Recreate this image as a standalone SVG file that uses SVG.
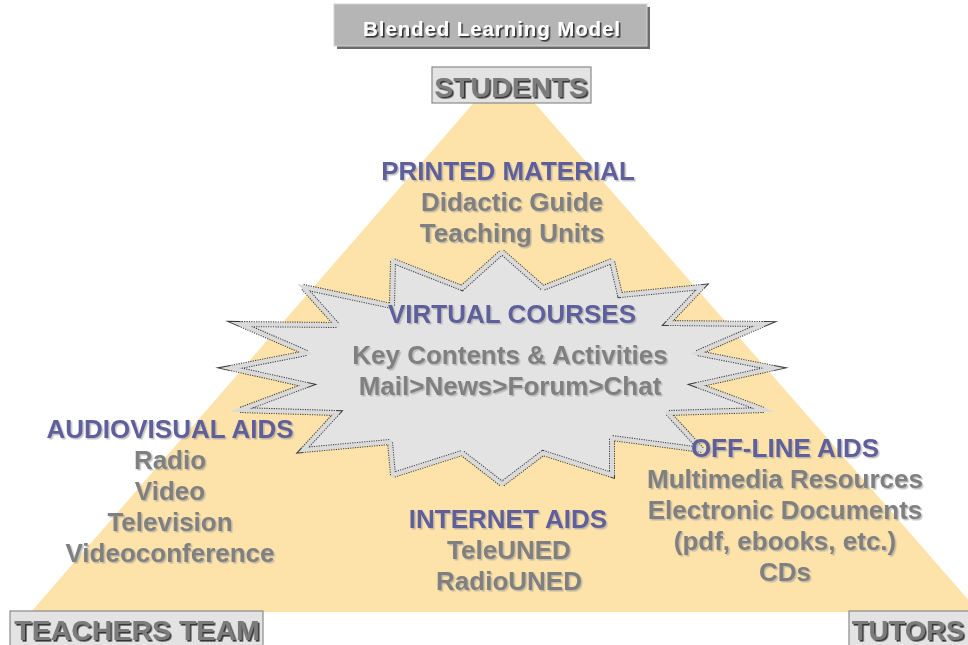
<svg xmlns="http://www.w3.org/2000/svg" width="968" height="645" viewBox="0 0 968 645">
<defs>
<filter id="sh" x="-5%" y="-20%" width="110%" height="150%"><feDropShadow dx="1.5" dy="1.5" stdDeviation="0.6" flood-color="#9a9a9a" flood-opacity="0.6"/></filter>
<filter id="shd" x="-5%" y="-20%" width="110%" height="150%"><feDropShadow dx="1.6" dy="1.6" stdDeviation="0.4" flood-color="#222" flood-opacity="0.9"/></filter>
<polygon id="star" points="502,252 543,288 612,261 620,295 702,287 668,323 764,324 697,353 774,368 697,385 764,410 668,413 702,450 612,438 612,475 543,453 502,484 462,453 393,475 390,442 303,450 337,413 240,410 307,385 230,368 307,353 240,324 337,325 303,287 392,306 393,261 462,288"/>
<style>
text{font-family:"Liberation Sans",Arial,sans-serif;font-weight:bold;text-anchor:middle}
.h{fill:#5e5e9c;font-size:26px}
.b{fill:#808080;font-size:26px}
.lbl{fill:#7c7c7c;font-size:28.5px}
.box{fill:#e3e3e3;stroke:#8a8a8a;stroke-width:1.2}
.title{fill:#ffffff;font-size:20.5px;letter-spacing:0.9px}
</style>
</defs>
<rect width="968" height="645" fill="#ffffff"/>
<g id="pyramid">
<polygon points="504,68 31,612 979,612" fill="#fde2a9"/>
</g>
<g id="title">
<rect x="337" y="7" width="313" height="42" fill="#6a6a6a"/>
<rect x="334" y="4" width="313" height="42" fill="#b5b5b5" stroke="#d4d4d4" stroke-width="1"/>
<text class="title" x="492" y="36" filter="url(#shd)">Blended Learning Model</text>
</g>
<g id="students">
<rect class="box" x="432" y="67" width="159" height="36"/>
<text class="lbl" x="511" y="97" filter="url(#shd)">STUDENTS</text>
</g>
<g id="teachers">
<rect class="box" x="10" y="611" width="253" height="40"/>
<text class="lbl" x="137" y="640" filter="url(#shd)">TEACHERS TEAM</text>
</g>
<g id="tutors">
<rect class="box" x="849" y="611" width="130" height="40"/>
<text class="lbl" x="908" y="640" style="font-size:27.5px" filter="url(#shd)">TUTORS</text>
</g>
<g id="virtual-courses">
<use href="#star" fill="#e3e3e3" stroke="none"/>
<use href="#star" fill="none" stroke="#3a3a3a" stroke-width="6" stroke-dasharray="1.2 1.2" stroke-miterlimit="12"/>
<use href="#star" fill="none" stroke="#dadada" stroke-width="4" stroke-miterlimit="12"/>
<g filter="url(#sh)">
<text class="h" x="512" y="323">VIRTUAL COURSES</text>
<text class="b" x="510" y="364">Key Contents &amp; Activities</text>
<text class="b" x="510" y="395">Mail&gt;News&gt;Forum&gt;Chat</text>
</g>
</g>
<g id="printed-material" filter="url(#sh)">
<text class="h" x="508" y="180">PRINTED MATERIAL</text>
<text class="b" x="512" y="211">Didactic Guide</text>
<text class="b" x="512" y="242">Teaching Units</text>
</g>
<g id="audiovisual-aids" filter="url(#sh)">
<text class="h" x="170" y="438">AUDIOVISUAL AIDS</text>
<text class="b" x="170" y="469">Radio</text>
<text class="b" x="170" y="500">Video</text>
<text class="b" x="170" y="531">Television</text>
<text class="b" x="170" y="562">Videoconference</text>
</g>
<g id="internet-aids" filter="url(#sh)">
<text class="h" x="508" y="528">INTERNET AIDS</text>
<text class="b" x="509" y="559">TeleUNED</text>
<text class="b" x="509" y="590">RadioUNED</text>
</g>
<g id="offline-aids" filter="url(#sh)">
<text class="h" x="785" y="457">OFF-LINE AIDS</text>
<text class="b" x="785" y="488">Multimedia Resources</text>
<text class="b" x="785" y="519">Electronic Documents</text>
<text class="b" x="785" y="550">(pdf, ebooks, etc.)</text>
<text class="b" x="785" y="581">CDs</text>
</g>
<g id="connectors"/>
</svg>
